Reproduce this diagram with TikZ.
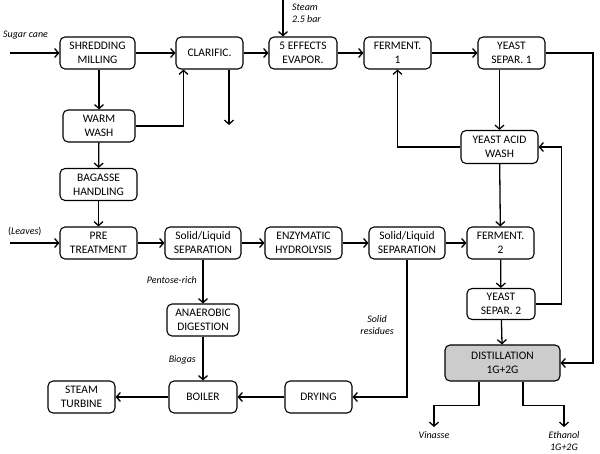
\documentclass[tikz,border=0pt]{standalone}
\usepackage{fontspec}
\setmainfont{Carlito}
\usetikzlibrary{arrows.meta,positioning}

\tikzstyle{box} = [draw, line width=1.1pt, rounded corners=5pt, minimum width=67pt, minimum height=32pt, inner sep=1pt, align=center]
\tikzstyle{arrow} = [line width=1.3pt, -{Straight Barb[length=4pt,width=9pt]}]
\tikzstyle{lbl} = [font=\itshape, inner sep=0pt, align=center]

\begin{document}
\begin{tikzpicture}[x=1pt, y=-1pt, font=\fontsize{11.5}{14}\selectfont]
\useasboundingbox (0,0) rectangle (600,454);
\node[box, minimum width=75pt] (shred) at (97.5,53) {SHREDDING\\MILLING};
\node[box] (clarif) at (209.5,53) {CLARIFIC.};
\node[box, minimum width=68pt] (evap) at (303,53) {5 EFFECTS\\EVAPOR.};
\node[box] (ferm1) at (397.5,53) {FERMENT.\\1};
\node[box] (ysep1) at (511.5,53) {YEAST\\SEPAR. 1};
\node[box, minimum width=72pt] (wwash) at (99,126) {WARM\\WASH};
\node[box, minimum width=77pt, minimum height=33pt] (acidwash) at (499.5,147) {YEAST ACID\\WASH};
\node[box, minimum width=77pt] (bagasse) at (98.5,184.5) {BAGASSE\\HANDLING};
\node[box, minimum width=77pt] (pretreat) at (98.5,243) {PRE\\TREATMENT};
\node[box, minimum width=76pt] (slsep1) at (203,243) {Solid/Liquid\\SEPARATION};
\node[box, minimum width=77pt] (enzhyd) at (303.5,243) {ENZYMATIC\\HYDROLYSIS};
\node[box, minimum width=76pt] (slsep2) at (407,243) {Solid/Liquid\\SEPARATION};
\node[box] (ferm2) at (500.5,243) {FERMENT.\\2};
\node[box, minimum width=68pt, minimum height=31pt] (ysep2) at (501,304) {YEAST\\SEPAR. 2};
\node[box, fill=black!20, minimum width=115pt, minimum height=36pt] (distil) at (502.5,363) {DISTILLATION\\1G+2G};
\node[box, minimum width=72pt] (anaer) at (203,320) {ANAEROBIC\\DIGESTION};
\node[box, minimum width=68pt] (boiler) at (203,397) {BOILER};
\node[box] (turbine) at (81.5,397) {STEAM\\TURBINE};
\node[box] (drying) at (318.5,397) {DRYING};

\coordinate (canein) at (10,53);
\coordinate (leavesin) at (10,243);
\coordinate (steamin) at (283,0);
\coordinate (clarout) at (229,125);
\coordinate (bypass) at (593,53);
\coordinate (vinasse) at (434,427);
\coordinate (ethanol) at (564,427);

\node[lbl, anchor=west] (canelbl) at (3,35) {Sugar cane};
\node[lbl, anchor=west] (leaveslbl) at (8,232) {\upshape(\itshape Leaves\upshape)};
\node[lbl, anchor=north west, align=left] (steamlbl) at (292,4) {Steam\\2.5 bar};
\node[lbl, anchor=east] (pentlbl) at (197,280) {Pentose-rich};
\node[lbl, anchor=east] (biolbl) at (196,360) {Biogas};
\node[lbl] (sollbl) at (377,325) {Solid\\residues};
\node[lbl, below=4pt of vinasse] (vinlbl) {Vinasse};
\node[lbl, below=4pt of ethanol] (ethlbl) {Ethanol\\1G+2G};

\draw[arrow] (canein) -- (shred);
\draw[arrow] (shred) -- (clarif);
\draw[arrow] (clarif) -- (evap);
\draw[arrow] (evap) -- (ferm1);
\draw[arrow] (ferm1) -- (ysep1);
\draw[arrow] (steamin) -- (steamin |- evap.north);
\draw[arrow] (shred.south -| wwash.north) -- (wwash.north);
\draw[arrow] (wwash.east) -| ([xshift=-26pt]clarif.south);
\draw[arrow] (clarif.south -| clarout) -- (clarout);
\draw[arrow] (wwash) -- (bagasse);
\draw[arrow] (bagasse) -- (pretreat);
\draw[arrow] (leavesin) -- (pretreat);
\draw[arrow] (pretreat) -- (slsep1);
\draw[arrow] (slsep1) -- (enzhyd);
\draw[arrow] (enzhyd) -- (slsep2);
\draw[arrow] (slsep2) -- (ferm2);
\draw[arrow] (ysep1.south -| acidwash.north) -- (acidwash.north);
\draw[arrow] (acidwash.west) -| (ferm1.south);
\draw[arrow] (ysep1.east) -- (bypass) |- (distil.east);
\draw[arrow] (acidwash) -- (ferm2);
\draw[arrow] (ferm2) -- (ysep2);
\draw[arrow] (ysep2) -- (distil);
\draw[arrow] (ysep2.east) -- ++(26,0) |- (acidwash.east);
\draw[arrow] (slsep1) -- (anaer);
\draw[arrow] (anaer) -- (boiler);
\draw[arrow] (boiler) -- (turbine);
\draw[arrow] (slsep2.south) |- (drying.east);
\draw[arrow] (drying) -- (boiler);
\draw[arrow] ([xshift=-23.5pt]distil.south) -- ++(0,24) -| (vinasse);
\draw[arrow] ([xshift=20.5pt]distil.south) -- ++(0,24) -| (ethanol);
\end{tikzpicture}
\end{document}
